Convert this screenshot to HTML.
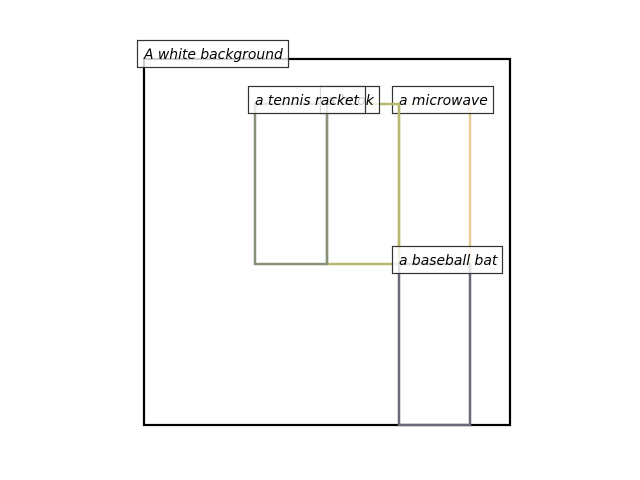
<!DOCTYPE html>
<html><head><meta charset="utf-8"><style>
html,body{margin:0;padding:0;background:#fff;width:640px;height:480px;overflow:hidden}
text{font-family:"DejaVu Sans","Liberation Sans",sans-serif;font-style:italic;font-size:13.9px;fill:#000}
</style></head><body>
<svg width="640" height="480" xmlns="http://www.w3.org/2000/svg">
<rect x="144" y="59" width="366" height="366" fill="none" stroke="#000" stroke-width="2.2"/>
<rect x="137.5" y="40.5" width="151" height="27" fill="#fff" fill-opacity="0.8" stroke="#333" stroke-width="1.2"/>
<text x="144" y="59">A white background</text>

<rect x="399" y="104" width="71" height="160" fill="none" stroke="#e8cc96" stroke-width="2.5"/>
<rect x="392.5" y="86.5" width="101" height="27" fill="#fff" fill-opacity="0.8" stroke="#333" stroke-width="1.2"/>
<text x="399" y="105">a microwave</text>

<rect x="327" y="104" width="72" height="160" fill="none" stroke="#b8b870" stroke-width="2.5"/>
<rect x="320.5" y="86.5" width="59" height="27" fill="#fff" fill-opacity="0.8" stroke="#333" stroke-width="1.2"/>
<text x="327" y="105">a book</text>

<rect x="255" y="104" width="72" height="160" fill="none" stroke="#88927a" stroke-width="2.5"/>
<rect x="248.5" y="86.5" width="117" height="27" fill="#fff" fill-opacity="0.8" stroke="#333" stroke-width="1.2"/>
<text x="255" y="105">a tennis racket</text>

<rect x="399" y="264" width="71" height="161" fill="none" stroke="#6c687c" stroke-width="2.5"/>
<rect x="392.5" y="246.5" width="110" height="27" fill="#fff" fill-opacity="0.8" stroke="#333" stroke-width="1.2"/>
<text x="399" y="265">a baseball bat</text>
</svg>
</body></html>
